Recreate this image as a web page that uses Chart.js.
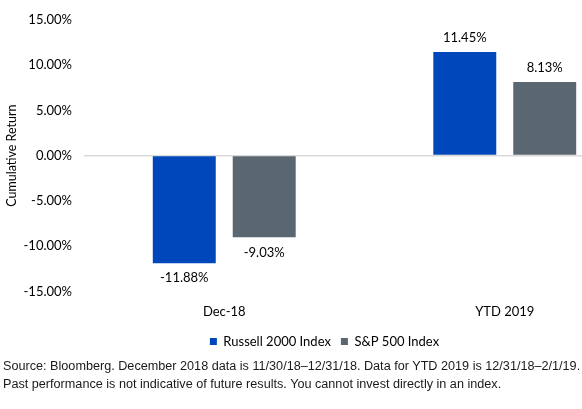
<!DOCTYPE html>
<html>
<head>
<meta charset="utf-8">
<script src="https://cdn.jsdelivr.net/npm/chart.js@4"></script>
<style>
  html, body { margin: 0; padding: 0; background: #fff; }
  #wrap { position: relative; width: 582px; height: 409px; overflow: hidden; }
  #box { position: absolute; left: 0; top: 0; width: 652px; height: 358px; }
  #note {
    position: absolute; left: 3px; top: 357px; width: 600px;
    font-family: "Liberation Sans", Arial, sans-serif; font-size: 12.65px;
    line-height: 18px; color: #1a1a1a; white-space: nowrap;
  }
</style>
</head>
<body>
<div id="wrap">
  <div id="box"><canvas id="myChart"></canvas></div>
  <div id="note">
    Source: Bloomberg. December 2018 data is 11/30/18–12/31/18. Data for YTD 2019 is 12/31/18–2/1/19.<br>
    Past performance is not indicative of future results. You cannot invest directly in an index.
  </div>
</div>
<script>
// chart data
const categories = ['Dec-18', 'YTD 2019'];
const russell2000 = [-11.88, 11.45];
const sp500 = [-9.03, 8.13];
const yTicks = [-15, -10, -5, 0, 5, 10, 15];

const fontFamily = 'Lato, "Open Sans", sans-serif';

// draws the value label above (or below) each bar
const barLabels = {
    id: 'barLabels',
    afterDatasetsDraw(chart) {
        const ctx = chart.ctx;
        ctx.save();
        ctx.font = '13px ' + fontFamily;
        ctx.fillStyle = '#000';
        ctx.textAlign = 'center';
        ctx.textBaseline = 'middle';
        chart.data.datasets.forEach((ds, i) => {
            chart.getDatasetMeta(i).data.forEach((bar, j) => {
                const v = ds.data[j];
                const y = v >= 0 ? bar.y - 14 : bar.y + 15;
                ctx.fillText(v.toFixed(2) + '%', bar.x, y);
            });
        });
        ctx.restore();
    }
};

const ctx = document.getElementById('myChart').getContext('2d');
const myChart = new Chart(ctx, {
    type: 'bar',
    data: {
        labels: categories,
        datasets: [{
            label: 'Russell 2000 Index',
            data: russell2000,
            backgroundColor: '#0047bb'
        }, {
            label: 'S&P 500 Index',
            data: sp500,
            backgroundColor: '#5b6770'
        }]
    },
    options: {
        responsive: true,
        maintainAspectRatio: false,
        animation: false,
        categoryPercentage: 0.57,
        barPercentage: 0.7875,
        layout: { padding: { top: 10, right: 7, left: 4, bottom: 0 } },
        plugins: {
            legend: {
                position: 'bottom',
                labels: {
                    boxWidth: 7,
                    boxHeight: 7,
                    padding: 10,
                    color: '#000',
                    font: { family: fontFamily, size: 13 }
                }
            },
            tooltip: { enabled: false }
        },
        scales: {
            x: {
                grid: { display: false },
                border: { display: false },
                ticks: {
                    color: '#000',
                    padding: 5,
                    font: { family: fontFamily, size: 13 }
                }
            },
            y: {
                min: -15,
                max: 15,
                afterBuildTicks: scale => {
                    scale.ticks = yTicks.map(v => ({ value: v }));
                },
                afterFit: scale => {
                    scale.width = 80;
                },
                border: { display: false },
                grid: {
                    drawTicks: false,
                    color: c => c.tick && c.tick.value === 0 ? '#d9d9d9' : 'rgba(0,0,0,0)',
                    lineWidth: 1.5
                },
                ticks: {
                    color: '#000',
                    padding: 12,
                    font: { family: fontFamily, size: 13 },
                    callback: v => v.toFixed(2) + '%'
                },
                title: {
                    display: true,
                    text: 'Cumulative Return',
                    color: '#000',
                    padding: 0,
                    font: { family: fontFamily, size: 12.5 }
                }
            }
        }
    },
    plugins: [barLabels]
});
</script>
</body>
</html>
